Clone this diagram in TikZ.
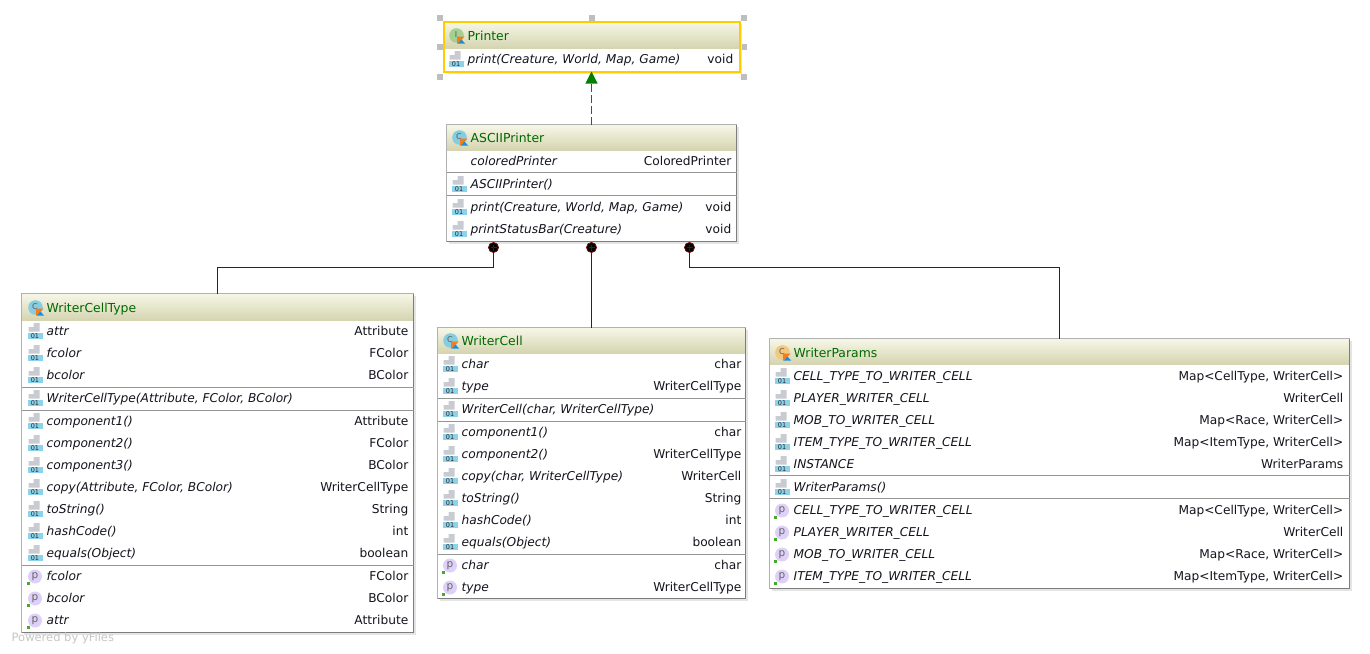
\documentclass[tikz,border=0pt]{standalone}
\usepackage{fontspec}
\setmainfont{DejaVu Sans}
\usetikzlibrary{arrows.meta,positioning}
\definecolor{hdrtop}{RGB}{247,247,232}
\definecolor{hdrbot}{RGB}{212,212,176}
\definecolor{edge}{RGB}{178,178,178}
\definecolor{edgedk}{RGB}{125,125,125}
\definecolor{sepc}{RGB}{150,150,150}
\definecolor{shade}{RGB}{228,228,228}
\definecolor{title}{RGB}{0,105,0}
\definecolor{wine}{RGB}{128,0,0}
\definecolor{impl}{RGB}{0,128,0}
\definecolor{selyel}{RGB}{255,204,0}
\definecolor{handle}{RGB}{190,190,190}
\definecolor{strip}{RGB}{140,210,235}
\definecolor{pagec}{RGB}{200,204,210}
\definecolor{propc}{RGB}{222,208,248}
\definecolor{icot}{RGB}{165,208,145}
\definecolor{icoc}{RGB}{135,205,225}
\definecolor{icoo}{RGB}{242,200,125}
\definecolor{kor}{RGB}{240,125,30}
\definecolor{kbl}{RGB}{30,140,220}
\definecolor{dotg}{RGB}{70,170,40}
\definecolor{txt}{RGB}{20,20,30}
\newcounter{rowno}
\newcommand{\rowfont}{\fontsize{12.2}{14}\selectfont}
\tikzset{
  x=1pt,y=-1pt,
  classbox/.style={draw=edge,line width=1pt,fill=white,anchor=north west,inner sep=0pt,outer sep=0pt},
  hdrbox/.style={anchor=north west,inner sep=0pt,outer sep=0pt,top color=hdrtop,bottom color=hdrbot,draw=none},
  shadowbox/.style={fill=shade,draw=none,anchor=north west,inner sep=0pt},
  lefttext/.style={anchor=base west,inner sep=0pt,text=txt,font=\rowfont\itshape},
  righttext/.style={anchor=base east,inner sep=0pt,text=txt,font=\rowfont},
  titletext/.style={anchor=base west,inner sep=0pt,text=title,font=\fontsize{12.4}{14}\selectfont},
  sepline/.style={sepc,line width=1pt},
  composite/.style={wine,line width=1.1pt},
  plusdot/.style={circle,fill=black,draw=wine,line width=0.8pt,minimum size=10pt,inner sep=0pt},
  realizes/.style={impl,line width=1.1pt,dash pattern=on 8pt off 3pt,-{Triangle[length=12pt,width=12pt,fill=impl]}},
  handlebox/.style={fill=handle,draw=none,minimum size=6pt,inner sep=0pt},
  yfiles/.style={anchor=base west,inner sep=0pt,text=black!22,font=\fontsize{11.5}{13}\selectfont},
}
% method icon: #1 = left, #2 = row centre
\newcommand{\mico}[2]{\begin{scope}[shift={(#1,#2)}]
  \fill[pagec] (6,-8.5) -- (12,-8.5) -- (12,0) -- (1,0) -- (1,-4.5) -- (6,-4.5) -- cycle;
  \fill[strip] (0,1) rectangle (15,7.5);
  \node[inner sep=0pt,text=black!85,font=\fontsize{6.5}{6}\selectfont] at (7.5,4.2) {01};
\end{scope}}
% property icon
\newcommand{\pico}[2]{\begin{scope}[shift={(#1,#2)}]
  \fill[propc] (7.5,0) circle (7);
  \node[inner sep=0pt,text=black!60,font=\fontsize{10.5}{10}\selectfont] at (7.5,0) {p};
  \fill[dotg] (-1,5) rectangle (2,8);
\end{scope}}
% class icon: #1 left #2 centre #3 colour #4 letter
\newcommand{\cico}[4]{\begin{scope}[shift={(#1,#2)}]
  \fill[#3] (7,0) circle (7.3);
  \node[inner sep=0pt,text=black!65,font=\fontsize{8}{8}\selectfont] at (6.5,-1) {#4};
  \fill[kor] (7.5,1) -- (15,1) -- (8.5,8) -- (7.5,8) -- cycle;
  \fill[kbl] (8.5,8) -- (12,4) -- (15.5,8) -- cycle;
\end{scope}}
% class frame: name, x, y, w, h, header h
\newcommand{\classframe}[6]{%
  \node[shadowbox,minimum width=#4 pt,minimum height=#5 pt] (#1s) at (#2+2,#3+2) {};
  \node[classbox,minimum width=#4 pt,minimum height=#5 pt] (#1) at (#2,#3) {};
  \node[hdrbox,minimum width=#4 pt,minimum height=#6 pt] (#1h) at (#2,#3) {};
  \draw[edge,line width=1pt] (#2,#3+#5) -- (#2,#3) -- (#2+#4,#3);
  \draw[edgedk,line width=1pt] (#2+#4,#3) -- (#2+#4,#3+#5) -- (#2,#3+#5);
  \def\bL{#2}\def\bR{#2+#4}\def\tL{#2}\def\tR{#2+#4}}
\newcommand{\ctitle}[4]{% y, colour, letter, text
  \cico{\tL+6}{#1}{#2}{#3}
  \stepcounter{rowno}
  \node[titletext] (r\therowno) at (\tL+24,#1+4.5) {#4};}
\newcommand{\rowtext}[3]{%
  \stepcounter{rowno}
  \node[lefttext] (r\therowno) at (\tL+24,#1+4.3) {#2};
  \stepcounter{rowno}
  \node[righttext] (r\therowno) at (\tR-6,#1+4.3) {#3};}
\newcommand{\mrow}[3]{\mico{\tL+5}{#1}\rowtext{#1}{#2}{#3}}
\newcommand{\prow}[3]{\pico{\tL+5}{#1}\rowtext{#1}{#2}{#3}}
\newcommand{\sep}[1]{\draw[sepline] (\bL,#1) -- (\bR,#1);}
\begin{document}
\begin{tikzpicture}
\useasboundingbox (-0.5,-0.5) rectangle (1369.5,652.5);
\fill[white] (-0.5,-0.5) rectangle (1369.5,652.5);
% selection handles
\foreach \hn/\hx/\hy in {a/439/17,b/591/17,c/743/17,d/439/46,e/743/46,f/439/76,g/743/76}
  \node[handlebox] (h\hn) at (\hx,\hy) {};
% Printer
\classframe{printer}{443}{21}{296}{50}{27}
\draw[selyel,line width=2pt] (443,21) rectangle (739,71);
\ctitle{35}{icot}{I}{Printer}
\mrow{59}{print(Creature, World, Map, Game)}{void}
% ASCIIPrinter
\classframe{ascii}{446}{124}{290}{117}{26}
\def\tR{737}
\ctitle{137}{icoc}{C}{ASCIIPrinter}
\rowtext{161}{coloredPrinter}{ColoredPrinter}
\sep{172}
\mrow{184}{ASCIIPrinter()}{}
\sep{195}
\mrow{207}{print(Creature, World, Map, Game)}{void}
\mrow{229}{printStatusBar(Creature)}{void}
% WriterCellType
\classframe{wct}{21}{293}{392}{339}{27}
\def\tL{22}\def\tR{414}
\ctitle{307}{icoc}{C}{WriterCellType}
\mrow{331}{attr}{Attribute}
\mrow{353}{fcolor}{FColor}
\mrow{375}{bcolor}{BColor}
\sep{387}
\mrow{398}{WriterCellType(Attribute, FColor, BColor)}{}
\sep{410}
\mrow{421}{component1()}{Attribute}
\mrow{443}{component2()}{FColor}
\mrow{465}{component3()}{BColor}
\mrow{487}{copy(Attribute, FColor, BColor)}{WriterCellType}
\mrow{509}{toString()}{String}
\mrow{531}{hashCode()}{int}
\mrow{553}{equals(Object)}{boolean}
\sep{565}
\prow{576}{fcolor}{FColor}
\prow{598}{bcolor}{BColor}
\prow{620}{attr}{Attribute}
% WriterCell
\classframe{wc}{437}{327}{308}{271}{26}
\def\tR{747}
\ctitle{340}{icoc}{C}{WriterCell}
\mrow{364}{char}{char}
\mrow{386}{type}{WriterCellType}
\sep{398}
\mrow{409}{WriterCell(char, WriterCellType)}{}
\sep{421}
\mrow{432}{component1()}{char}
\mrow{454}{component2()}{WriterCellType}
\mrow{476}{copy(char, WriterCellType)}{WriterCell}
\mrow{498}{toString()}{String}
\mrow{520}{hashCode()}{int}
\mrow{542}{equals(Object)}{boolean}
\sep{554}
\prow{565}{char}{char}
\prow{587}{type}{WriterCellType}
% WriterParams
\classframe{wp}{769}{338}{580}{250}{26}
\ctitle{352}{icoo}{C}{WriterParams}
\mrow{376}{CELL\_TYPE\_TO\_WRITER\_CELL}{Map<CellType, WriterCell>}
\mrow{398}{PLAYER\_WRITER\_CELL}{WriterCell}
\mrow{420}{MOB\_TO\_WRITER\_CELL}{Map<Race, WriterCell>}
\mrow{442}{ITEM\_TYPE\_TO\_WRITER\_CELL}{Map<ItemType, WriterCell>}
\mrow{464}{INSTANCE}{WriterParams}
\sep{475}
\mrow{487}{WriterParams()}{}
\sep{498}
\prow{510}{CELL\_TYPE\_TO\_WRITER\_CELL}{Map<CellType, WriterCell>}
\prow{532}{PLAYER\_WRITER\_CELL}{WriterCell}
\prow{554}{MOB\_TO\_WRITER\_CELL}{Map<Race, WriterCell>}
\prow{576}{ITEM\_TYPE\_TO\_WRITER\_CELL}{Map<ItemType, WriterCell>}
% connectors
\draw[realizes] (ascii.north) -- (printer.south);
\coordinate (d1) at (493,247);
\coordinate (d2) at (591,247);
\coordinate (d3) at (689,247);
\draw[composite] (d1) -- ++(0,20) -| (wct.north);
\draw[composite] (d2) -- (wc.north);
\draw[composite] (d3) -- ++(0,20) -| (wp.north);
\foreach \dn in {d1,d2,d3}{
  \node[plusdot] (\dn n) at (\dn) {};
  \draw[wine,line width=.7pt] ([xshift=-3pt]\dn n.center) -- ([xshift=3pt]\dn n.center);
  \draw[wine,line width=.7pt] ([yshift=-3pt]\dn n.center) -- ([yshift=3pt]\dn n.center);
}
\node[yfiles] (yf) at (11,641) {Powered by yFiles};
\end{tikzpicture}
\end{document}
